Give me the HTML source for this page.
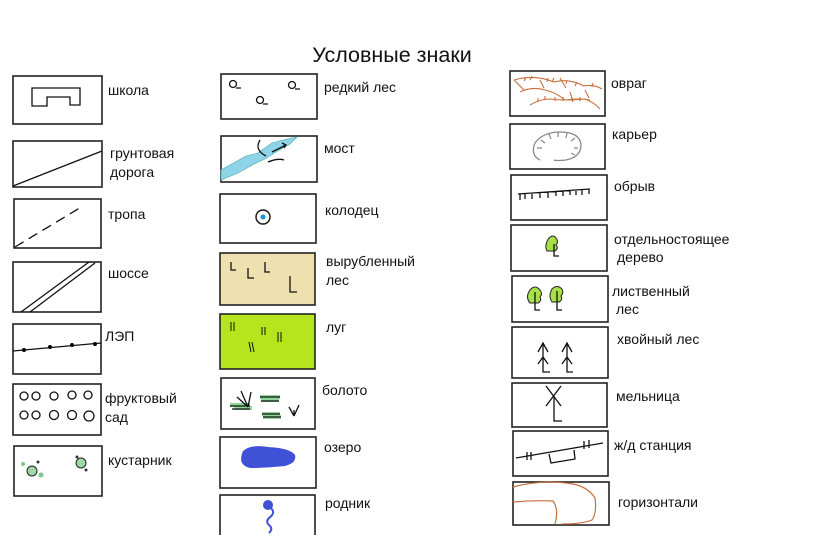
<!DOCTYPE html>
<html><head><meta charset="utf-8"><style>
html,body{margin:0;padding:0;background:#fff;}
svg{display:block}
text{font-family:"Liberation Sans","DejaVu Sans",sans-serif;font-size:14px;fill:#111}
.b{fill:#fff;stroke:#222;stroke-width:1.6}
.l{fill:none;stroke:#111;stroke-width:1.3}
</style></head><body>
<svg width="820" height="535" viewBox="0 0 820 535">
<text x="392" y="62" text-anchor="middle" style="font-size:21.5px">Условные  знаки</text>

<!-- left column -->
<rect class="b" x="13" y="76" width="89" height="48"/>
<path class="l" d="M32 88 H80 V105 H70 V97 H47 V106 H32 Z"/>
<text x="108" y="95">школа</text>

<rect class="b" x="13" y="141" width="89" height="46"/>
<line class="l" x1="13" y1="186" x2="102" y2="151"/>
<text x="110" y="158">грунтовая</text><text x="110" y="177">дорога</text>

<rect class="b" x="14" y="199" width="87" height="49"/>
<line class="l" x1="15" y1="247" x2="83" y2="206" stroke-dasharray="10,6"/>
<text x="108" y="219">тропа</text>

<rect class="b" x="13" y="262" width="88" height="50"/>
<line class="l" x1="21" y1="312" x2="89" y2="262"/><line class="l" x1="30" y1="312" x2="95" y2="263"/>
<text x="108" y="278">шоссе</text>

<rect class="b" x="13" y="324" width="88" height="50"/>
<line class="l" x1="13" y1="351" x2="101" y2="343"/>
<circle cx="24" cy="350" r="2"/><circle cx="50" cy="347" r="2"/><circle cx="72" cy="345" r="2"/><circle cx="95" cy="344" r="2"/>
<text x="105" y="341">ЛЭП</text>

<rect class="b" x="13" y="384" width="88" height="51"/>
<g class="l"><circle cx="24" cy="396" r="4"/><circle cx="36" cy="396" r="4"/><circle cx="54" cy="396" r="4"/><circle cx="72" cy="395" r="4"/><circle cx="88" cy="395" r="4"/>
<circle cx="24" cy="415" r="4"/><circle cx="36" cy="415" r="4"/><circle cx="54" cy="415" r="4.5"/><circle cx="72" cy="415" r="4.5"/><circle cx="89" cy="416" r="5"/></g>
<text x="105" y="403">фруктовый</text><text x="105" y="422">сад</text>

<rect class="b" x="14" y="446" width="88" height="50"/>
<circle cx="32" cy="471" r="5" fill="#9fd8a6" stroke="#222"/><circle cx="81" cy="463" r="5" fill="#9fd8a6" stroke="#222"/>
<circle cx="23" cy="464" r="2" fill="#7dc78a"/><circle cx="41" cy="475" r="2.5" fill="#7dc78a"/><circle cx="38" cy="462" r="1.5" fill="#333"/><circle cx="86" cy="470" r="1.5" fill="#333"/><circle cx="77" cy="457" r="1.5" fill="#333"/>
<text x="108" y="465">кустарник</text>

<!-- middle column -->
<rect class="b" x="221" y="74" width="96" height="45"/>
<g class="l"><circle cx="233" cy="84" r="3.5"/><circle cx="292" cy="85" r="3.5"/><circle cx="260" cy="100" r="3.5"/><path d="M236 88h5M295 89h5M263 104h5"/></g>
<text x="324" y="92">редкий лес</text>

<rect class="b" x="221" y="136" width="96" height="46"/>
<path d="M221 170 L246 156 L258 153 L262 150 L272 143 L283 140 L297 137 L290 144 L276 152 L265 159 L254 164 L238 173 L221 180 Z" fill="#8fd3e8" stroke="#4aa" stroke-width=".6"/>
<path class="l" d="M260 140 q-6 10 6 16 M268 162 q10 -4 16 -2 M272 152 l14 -7 M282 143 l4 2 -2 3"/>
<text x="324" y="153">мост</text>

<rect class="b" x="220" y="194" width="96" height="49"/>
<circle cx="263" cy="217" r="7" fill="#fff" stroke="#111" stroke-width="1.4"/><circle cx="263" cy="217" r="2.5" fill="#1e90e0"/>
<text x="325" y="215">колодец</text>

<rect class="b" x="220" y="253" width="95" height="52" style="fill:#efe0b0"/>
<path class="l" d="M231 262v8h5 M248 268v10h6 M265 262v10h5 M290 276v16h7"/>
<text x="326" y="266">вырубленный</text><text x="326" y="285">лес</text>

<rect class="b" x="220" y="314" width="95" height="55" style="fill:#b5e61d"/>
<path stroke="#111" stroke-width="1" fill="none" d="M231 322v9M234 322v9M249 342l2 10M252 342l2 10M262 327v8M265 327v8M278 332v10M281 332v10"/>
<text x="326" y="332">луг</text>

<rect class="b" x="221" y="378" width="94" height="51"/>
<path d="M230 405h20M234 408h18M260 397h20M261 400h18M262 414h18M263 417h18" stroke="#8ed69a" stroke-width="4" fill="none"/>
<path class="l" d="M230 406h20M232 409h18M260 397h20M261 401h18M262 414h18M263 417h18"/>
<path class="l" d="M248 407l-11-10M248 407l3-15M248 407l-7-16M294 416l-5-9M294 416l5-11M294 416v-6"/>
<text x="322" y="395">болото</text>

<rect class="b" x="220" y="437" width="96" height="51"/>
<path d="M243 451 q8 -7 25 -4 q22 1 27 8 q2 8 -10 11 q-20 2 -35 2 q-13 -3 -7 -17z" fill="#3f51d6"/>
<text x="324" y="452">озеро</text>

<rect class="b" x="220" y="495" width="95" height="45"/>
<circle cx="268" cy="505" r="5" fill="#3f51d6"/><path d="M271 508 q5 5 -2 10 q-4 4 1 8 q3 3 -1 7" stroke="#3f51d6" stroke-width="2" fill="none"/>
<text x="325" y="508">родник</text>

<!-- right column -->
<rect class="b" x="510" y="71" width="95" height="45"/>
<path d="M514 80 q20 -6 40 2 q15 -4 30 4 q10 -2 18 3 M520 92 q12 -6 25 -2 q10 2 20 10 q15 -2 25 0 M530 105 q10 -6 20 -6 q15 2 35 0 q10 4 15 10 M514 80 l10 10 M540 80 l4 8 M560 78 l6 10 M570 92 l3 10 M585 90 l4 8 M524 81l2-4M530 80l2-4M547 82l1-4M552 82l2-4M566 84l1-4M575 86l2-4M592 87l1-4M538 102l0-4M545 100v-4M555 101v-4M563 101v-4M572 101v-4M580 101v-4" stroke="#c86f3c" stroke-width="1.1" fill="none"/>
<text x="611" y="88">овраг</text>

<rect class="b" x="510" y="124" width="95" height="45"/>
<path d="M540 160 q-10 -5 -5 -17 q8 -11 25 -11 q20 0 21 13 q0 12 -15 15 q-10 1 -12 0" stroke="#888" stroke-width="1.3" fill="none"/>
<path d="M537 148h5M541 140l4 3M549 134l2 5M558 132v5M567 133l-1 5M575 138l-4 3M578 148h-4M575 155l-4-2" stroke="#888" stroke-width="1.2"/>
<text x="612" y="139">карьер</text>

<rect class="b" x="511" y="175" width="96" height="45"/>
<path class="l" d="M518 194 L590 189 M520 194v6M525 194v5M532 193v6M540 193v5M548 192v6M556 191v5M563 191v5M570 190v5M576 190v5M582 190v5M589 189v5"/>
<text x="614" y="191">обрыв</text>

<rect class="b" x="511" y="225" width="96" height="46"/>
<path d="M549 238 q4 -4 7 0 q3 4 0 7 q3 3 -1 6 h-8 q-3 -6 2 -13z" fill="#a8e04a" stroke="#222" stroke-width="1"/>
<path class="l" d="M554 244v12h5"/>
<text x="614" y="244">отдельностоящее</text><text x="617" y="262">дерево</text>

<rect class="b" x="512" y="276" width="96" height="46"/>
<path d="M530 290 q5 -6 10 0 q3 4 0 7 q2 4 -2 6 h-8 q-5 -6 0 -13z M552 289 q5 -5 10 0 q2 4 -1 7 q2 4 -2 6 h-7 q-4 -6 0 -13z" fill="#a8e04a" stroke="#222" stroke-width="1"/>
<path class="l" d="M535 292v18h5 M557 291v19h5"/>
<text x="612" y="296">лиственный</text><text x="616" y="314">лес</text>

<rect class="b" x="512" y="327" width="96" height="51"/>
<path class="l" d="M543 343v29h7 M538 352l5-9 5 9 M538 364l5-7 5 7 M567 343v29h6 M562 352l5-9 5 9 M562 364l5-7 5 7"/>
<text x="617" y="344">хвойный лес</text>

<rect class="b" x="512" y="383" width="95" height="44"/>
<path class="l" d="M546 386l15 20M561 386l-15 20M554 396v25h8"/>
<text x="616" y="401">мельница</text>

<rect class="b" x="513" y="431" width="95" height="45"/>
<path class="l" d="M516 458L603 443M527 452v8M531 452v8M584 441v8M589 440v8M549 454l2 9 24-4-1-9"/>
<text x="614" y="450">ж/д станция</text>

<rect class="b" x="513" y="482" width="96" height="43"/>
<path d="M513 487 q30 -8 60 -3 q15 3 22 14 q2 15 -3 22 q-10 4 -30 4 M513 502 q20 -2 40 -1 q6 8 2 23" stroke="#c86f3c" stroke-width="1.2" fill="none"/>
<text x="618" y="507">горизонтали</text>
</svg>
</body></html>
